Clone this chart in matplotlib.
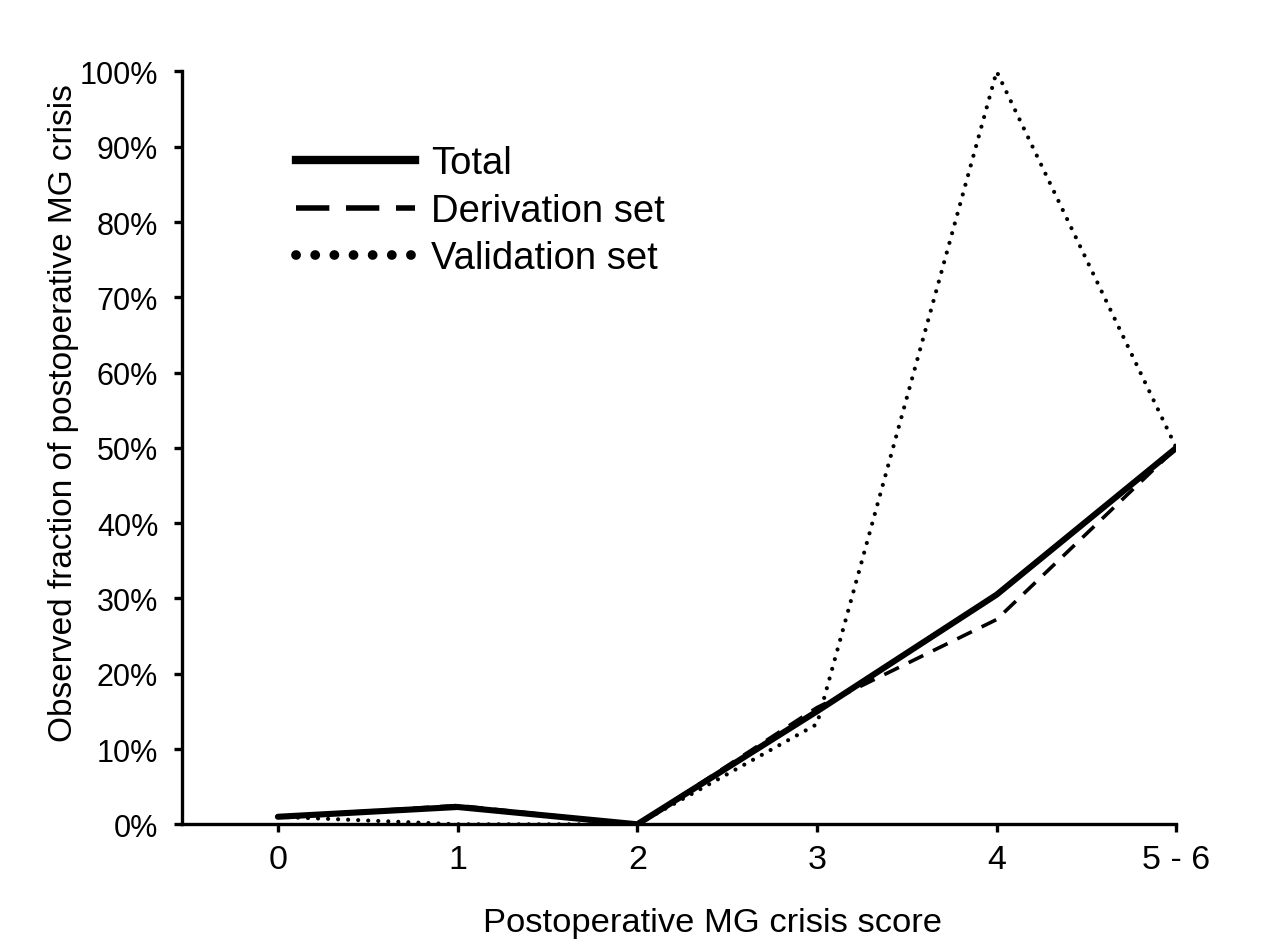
import numpy as np
import matplotlib.pyplot as plt
from matplotlib.lines import Line2D
from matplotlib.ticker import PercentFormatter

plt.rcParams['font.family'] = ['Liberation Sans', 'DejaVu Sans']

categories = ['0', '1', '2', '3', '4', '5 - 6']
total = [1.0, 2.3, 0.0, 15.0, 30.5, 50.0]
derivation = [1.0, 2.5, 0.0, 15.5, 27.2, 50.0]
validation = [1.0, 0.0, 0.0, 13.3, 100.0, 50.0]
series_names = ['Total', 'Derivation set', 'Validation set']

x = np.arange(len(categories))

fig = plt.figure(figsize=(12.8, 9.53), dpi=100)
ax = fig.add_axes([0.142, 0.134, 0.777, 0.790])

ax.plot(x, total, color='black', lw=4.4, solid_capstyle='round', zorder=3)
ax.plot(x, derivation, color='black', lw=2.6, ls=(0, (4.5, 3)), zorder=2)
ax.plot(x, validation, color='black', lw=3.0, ls=(0, (0.01, 2.4)),
        dash_capstyle='round', zorder=2)

ax.set_xlim(-0.535, 5)
ax.set_ylim(0, 100)
ax.set_yticks(np.arange(0, 101, 10))
ax.yaxis.set_major_formatter(PercentFormatter(decimals=0))
ax.set_xticks(x)
ax.set_xticklabels(categories)

for s in ['top', 'right']:
    ax.spines[s].set_visible(False)
for s in ['left', 'bottom']:
    ax.spines[s].set_linewidth(2.4)
ax.tick_params(axis='both', direction='out', length=6, width=2.4)
ax.tick_params(axis='y', labelsize=22, pad=11)
ax.tick_params(axis='x', labelsize=24.5, pad=8)

ax.set_xlabel('Postoperative MG crisis score', fontsize=24.8)
ax.xaxis.set_label_coords(0.534, -0.11)
ax.set_ylabel('Observed fraction of postoperative MG crisis', fontsize=24)
ax.yaxis.set_label_coords(-0.103, 0.548)

handles = [
    Line2D([], [], color='black', lw=6),
    Line2D([], [], color='black', lw=4, ls=(0, (6, 3))),
    Line2D([], [], color='black', lw=7, ls=(0, (0.01, 1.96)), dash_capstyle='round'),
]
ax.legend(handles, series_names, loc='upper left', bbox_to_anchor=(0.1, 0.922),
          frameon=False, fontsize=27.5, handlelength=3.1, handletextpad=0.42,
          labelspacing=0.3, borderaxespad=0)

fig.savefig('out.png', dpi=100, facecolor='white')
